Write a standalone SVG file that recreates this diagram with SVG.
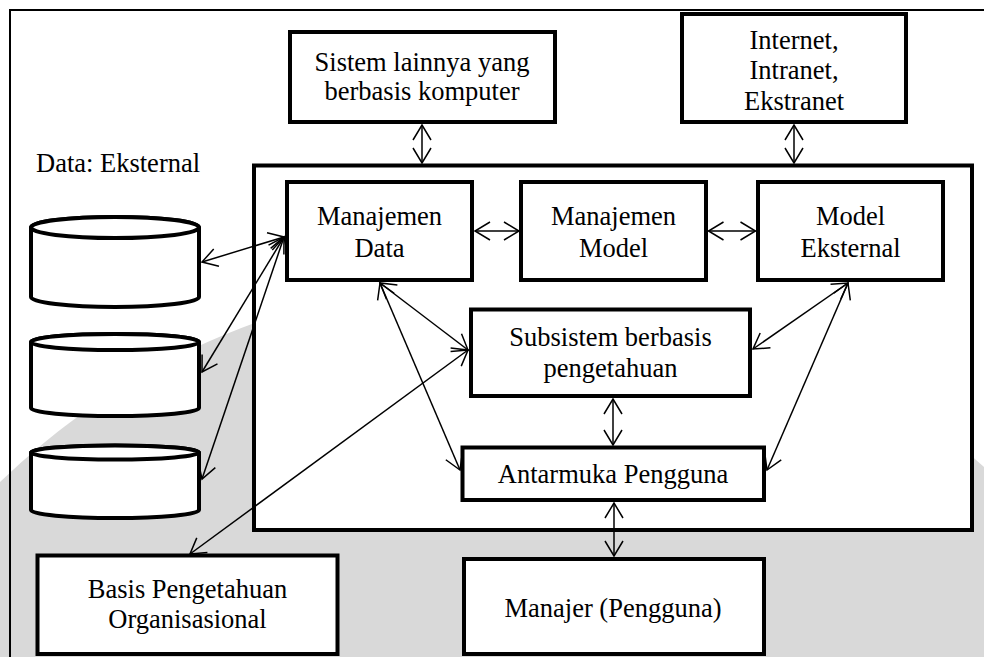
<svg xmlns="http://www.w3.org/2000/svg" width="984" height="657" viewBox="0 0 984 657">
  <defs>
    <style>
      .box { fill: #ffffff; stroke: #000000; stroke-width: 4; }
      .cyl { fill: #ffffff; stroke: #000000; stroke-width: 4; }
      .lbl { font-family: "Liberation Serif", "Times New Roman", serif; font-size: 26.5px; fill: #000000; text-anchor: middle; }
      .conn { stroke: #000000; stroke-width: 1.5; fill: none; marker-start: url(#arr); marker-end: url(#arr); }
    </style>
    <marker id="arr" markerUnits="userSpaceOnUse" viewBox="-18 -11 20 22" markerWidth="20" markerHeight="22" refX="0" refY="0" orient="auto-start-reverse">
      <path d="M -15 -9 L 0 0 L -15 9" fill="none" stroke="#000000" stroke-width="1.5"/>
    </marker>
  </defs>

  <!-- page background -->
  <rect x="0" y="0" width="984" height="657" fill="#ffffff"/>
  <circle cx="500" cy="1000" r="720" fill="#d9d9d9"/>

  <!-- outer page frame -->
  <polyline points="10,657 10,10 984,10" fill="none" stroke="#000000" stroke-width="2"/>

  <!-- main system boundary -->
  <g id="system">
    <rect class="box" x="254" y="165.5" width="718" height="364.5"/>
  </g>

  <g id="sistem-lain">
    <rect class="box" x="290" y="32" width="265" height="90"/>
    <text class="lbl" x="422" y="71">Sistem lainnya yang</text>
    <text class="lbl" x="422" y="100">berbasis komputer</text>
  </g>

  <g id="internet">
    <rect class="box" x="682" y="14" width="224" height="108"/>
    <text class="lbl" x="794" y="49">Internet,</text>
    <text class="lbl" x="794" y="79">Intranet,</text>
    <text class="lbl" x="794" y="110">Ekstranet</text>
  </g>

  <g id="data-eksternal">
    <text class="lbl" x="36" y="172" style="text-anchor:start">Data: Eksternal</text>
  </g>

  <g id="db1">
    <path class="cyl" d="M 31 227.5 A 84 10.5 0 0 1 199 227.5 L 199 297 A 84 10 0 0 1 31 297 Z"/>
    <ellipse class="cyl" cx="115" cy="227.5" rx="84" ry="10.5"/>
  </g>
  <g id="db2">
    <path class="cyl" d="M 31 342 A 84 8 0 0 1 199 342 L 199 408 A 84 8 0 0 1 31 408 Z"/>
    <ellipse class="cyl" cx="115" cy="342" rx="84" ry="8"/>
  </g>
  <g id="db3">
    <path class="cyl" d="M 31 452.5 A 84 7 0 0 1 199 452.5 L 199 510 A 84 8 0 0 1 31 510 Z"/>
    <ellipse class="cyl" cx="115" cy="452.5" rx="84" ry="7"/>
  </g>

  <g id="manajemen-data">
    <rect class="box" x="287" y="182" width="185" height="98"/>
    <text class="lbl" x="379.5" y="225">Manajemen</text>
    <text class="lbl" x="379.5" y="257">Data</text>
  </g>

  <g id="manajemen-model">
    <rect class="box" x="521" y="182" width="185" height="98"/>
    <text class="lbl" x="613.5" y="225">Manajemen</text>
    <text class="lbl" x="613.5" y="257">Model</text>
  </g>

  <g id="model-eksternal">
    <rect class="box" x="758" y="182" width="185" height="98"/>
    <text class="lbl" x="850.5" y="225">Model</text>
    <text class="lbl" x="850.5" y="257">Eksternal</text>
  </g>

  <g id="subsistem">
    <rect class="box" x="471" y="309.5" width="279" height="86.5"/>
    <text class="lbl" x="610.5" y="346">Subsistem berbasis</text>
    <text class="lbl" x="610.5" y="377">pengetahuan</text>
  </g>

  <g id="antarmuka">
    <rect class="box" x="462.5" y="447.5" width="301.5" height="52.5"/>
    <text class="lbl" x="613" y="483">Antarmuka Pengguna</text>
  </g>

  <g id="manajer">
    <rect class="box" x="464" y="559" width="300" height="95"/>
    <text class="lbl" x="613" y="617">Manajer (Pengguna)</text>
  </g>

  <g id="basis-pengetahuan">
    <rect class="box" x="37.5" y="555.5" width="300" height="98.5"/>
    <text class="lbl" x="187.5" y="598">Basis Pengetahuan</text>
    <text class="lbl" x="187.5" y="628">Organisasional</text>
  </g>

  <!-- two-way links -->
  <g id="connectors">
    <line class="conn" x1="422" y1="125" x2="422" y2="163"/>
    <line class="conn" x1="794" y1="125" x2="794" y2="163"/>
    <line class="conn" x1="475" y1="231" x2="519" y2="231"/>
    <line class="conn" x1="708.5" y1="231" x2="755.5" y2="231"/>
    <line class="conn" x1="202" y1="262" x2="284" y2="237"/>
    <line class="conn" x1="202" y1="372" x2="284" y2="237"/>
    <line class="conn" x1="202" y1="479" x2="284" y2="237"/>
    <line class="conn" x1="190" y1="554" x2="468" y2="350"/>
    <line class="conn" x1="380" y1="283" x2="460" y2="470"/>
    <line class="conn" x1="380" y1="283" x2="468" y2="350"/>
    <line class="conn" x1="848" y1="283" x2="753" y2="349"/>
    <line class="conn" x1="848" y1="283" x2="767" y2="470"/>
    <line class="conn" x1="613" y1="399" x2="613" y2="445"/>
    <line class="conn" x1="614" y1="503" x2="614" y2="556"/>
  </g>
</svg>
